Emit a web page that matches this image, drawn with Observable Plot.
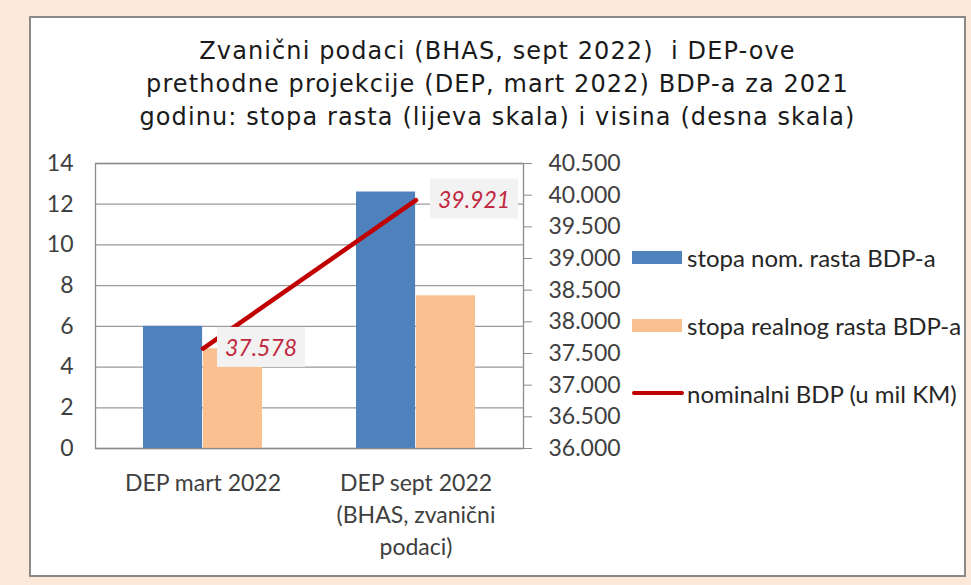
<!DOCTYPE html>
<html><head><meta charset="utf-8">
<script src="https://cdn.jsdelivr.net/npm/d3@7"></script>
<script src="https://cdn.jsdelivr.net/npm/@observablehq/plot@0.6"></script>
<style>
html,body{margin:0;padding:0;background:#fde9d9;width:971px;height:585px;overflow:hidden;}
#box{position:absolute;left:29px;top:16px;width:937px;height:561px;box-sizing:border-box;background:#fff;border:2px solid #8a8a8a;}
#title{position:absolute;left:29px;top:35px;width:937px;text-align:center;font-family:"DejaVu Sans";font-size:24px;letter-spacing:1.1px;line-height:33px;color:#1a1a1a;}
#chart{position:absolute;left:31px;top:140px;}
#legend{position:absolute;left:632px;top:242px;display:flex;flex-direction:column;gap:38px;font-family:Lato;font-size:24px;color:#262626;}
.row{height:30px;display:flex;align-items:center;white-space:nowrap;}
.sw{width:50px;height:13px;margin-right:5px;}
.ln{width:52px;height:4px;margin-right:3px;border-radius:2px;}
</style></head>
<body>
<div id="box"></div>
<div id="title"></div>
<div id="chart"></div>
<div id="legend"></div>
<script>
const titleLines = ["Zvanični podaci (BHAS, sept 2022)  i DEP-ove", "prethodne projekcije (DEP, mart 2022) BDP-a za 2021", "godinu: stopa rasta (lijeva skala) i visina (desna skala)"];
const categories = ["DEP mart 2022", "DEP sept 2022\n(BHAS, zvanični\npodaci)"];
const nominalGrowth = [6.0, 12.6];
const realGrowth = [4.9, 7.5];
const nominalGdp = [37578, 39921];
const leftTicks = [0, 2, 4, 6, 8, 10, 12, 14];
const rightTicks = [36000, 36500, 37000, 37500, 38000, 38500, 39000, 39500, 40000, 40500];
const seriesNames = ["stopa nom. rasta BDP-a", "stopa realnog rasta BDP-a", "nominalni BDP (u mil KM)"];
const seriesColors = ["#4f81bd", "#fac090", "#c00000"];

const leftMax = 14, rightMin = 36000, rightMax = 40500;
const toLeft = v => (v - rightMin) / (rightMax - rightMin) * leftMax;
const fromLeft = v => Math.round(rightMin + v / leftMax * (rightMax - rightMin));
const fmt = d3.formatLocale({decimal: ",", thousands: ".", grouping: [3]}).format(",d");

document.getElementById("title").innerHTML = titleLines.map(t => `<div style="white-space:pre">${t}</div>`).join("");

const rows = categories.map((c, i) => ({cat: c, nom: nominalGrowth[i], real: realGrowth[i], gdp: nominalGdp[i]}));
const half = 59.9;

const chart = Plot.plot({
  width: 610, height: 430,
  marginLeft: 64, marginRight: 118, marginTop: 23, marginBottom: 122,
  style: {background: "transparent", fontFamily: "Lato", fontSize: "23px", color: "#404040", overflow: "visible"},
  x: {domain: categories, paddingInner: 0.44, paddingOuter: 0.222, axis: null},
  y: {domain: [0, leftMax], axis: null},
  marks: [
    Plot.gridY(leftTicks, {stroke: "#9a9a9a", strokeOpacity: 1, strokeWidth: 1.3}),
    Plot.barY(rows, {x: "cat", y: "nom", fill: seriesColors[0], insetRight: half}),
    Plot.barY(rows, {x: "cat", y: "real", fill: seriesColors[1], insetLeft: half}),
    Plot.frame({stroke: "#8c8c8c", strokeWidth: 1.3}),
    Plot.axisY(leftTicks, {anchor: "left", tickSize: 0, tickPadding: 22, fontSize: 23, label: null}),
    Plot.axisY(rightTicks.map(toLeft), {anchor: "right", tickSize: 8, tickPadding: 17, stroke: "#8c8c8c", tickFormat: v => fmt(fromLeft(v)), fontSize: 23, label: null}),
    Plot.axisX({tickSize: 0, tickPadding: 20, lineHeight: 1.39, fontSize: 23, label: null}),
    Plot.line(rows, {x: "cat", y: d => toLeft(d.gdp), stroke: seriesColors[2], strokeWidth: 4.5, strokeLinecap: "round"}),
    Plot.text(rows, {x: "cat", y: d => toLeft(d.gdp), text: d => fmt(d.gdp), dx: 22, textAnchor: "start", fontStyle: "italic", fontSize: 23, fill: "#c0283f"})
  ]
});
document.getElementById("chart").appendChild(chart);

// light grey boxes behind the data labels, sized from the rendered text
const labelTexts = nominalGdp.map(fmt);
const labelNodes = Array.from(chart.querySelectorAll("text")).filter(t => labelTexts.includes(t.textContent));
labelNodes.forEach(t => {
  const b = t.getBBox();
  const r = document.createElementNS("http://www.w3.org/2000/svg", "rect");
  r.setAttribute("x", b.x - 8); r.setAttribute("y", b.y - 6);
  r.setAttribute("width", b.width + 16); r.setAttribute("height", b.height + 12);
  r.setAttribute("fill", "#f2f2f2");
  r.setAttribute("stroke", "none");
  const tr = t.getAttribute("transform"); if (tr) r.setAttribute("transform", tr);
  t.parentNode.insertBefore(r, t);
});

const lg = document.getElementById("legend");
seriesNames.forEach((n, i) => {
  const row = document.createElement("div"); row.className = "row";
  const s = document.createElement("div");
  s.className = i < 2 ? "sw" : "ln"; s.style.background = seriesColors[i];
  row.appendChild(s);
  row.appendChild(document.createTextNode(n));
  lg.appendChild(row);
});
</script>
</body></html>
